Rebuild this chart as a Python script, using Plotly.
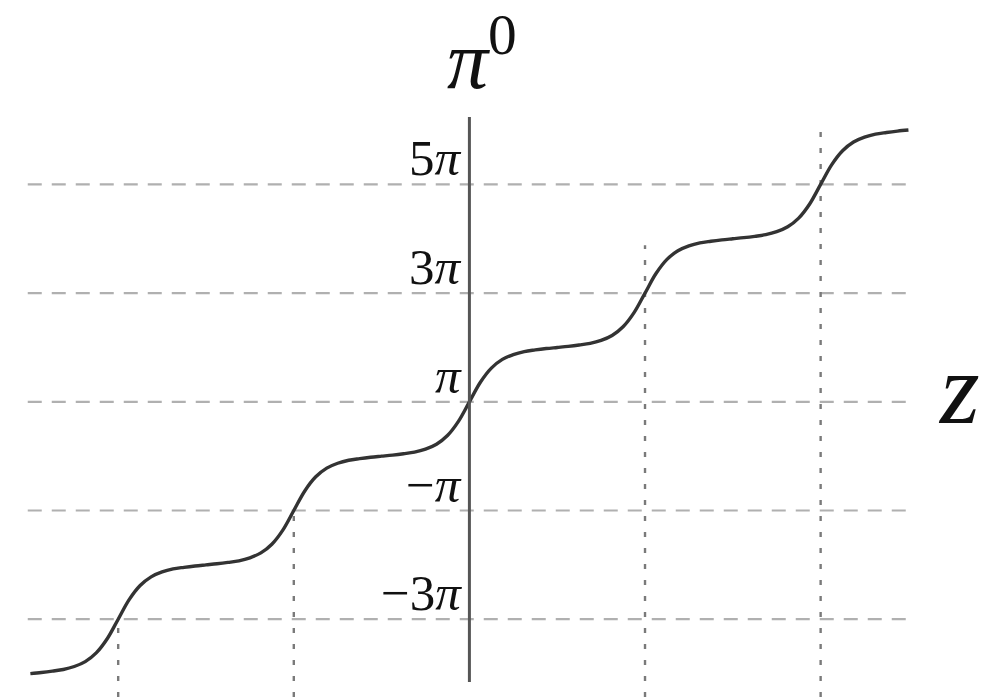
import plotly.graph_objects as go

# Phase profile pi^0(z) sampled every eighth unit of z; phase in units of pi
z_pts = [-5.0, -4.875, -4.75, -4.625, -4.5, -4.375, -4.25, -4.125,
         -4.0, -3.875, -3.75, -3.625, -3.5, -3.375, -3.25, -3.125,
         -3.0, -2.875, -2.75, -2.625, -2.5, -2.375, -2.25, -2.125,
         -2.0, -1.875, -1.75, -1.625, -1.5, -1.375, -1.25, -1.125,
         -1.0, -0.875, -0.75, -0.625, -0.5, -0.375, -0.25, -0.125,
         0.0, 0.125, 0.25, 0.375, 0.5, 0.625, 0.75, 0.875,
         1.0, 1.125, 1.25, 1.375, 1.5, 1.625, 1.75, 1.875,
         2.0, 2.125, 2.25, 2.375, 2.5, 2.625, 2.75, 2.875,
         3.0, 3.125, 3.25, 3.375, 3.5, 3.625, 3.75, 3.875,
         4.0, 4.125, 4.25, 4.375, 4.5, 4.625, 4.75, 4.875, 5.0]
phase_pts = [-4.0, -3.98, -3.955, -3.925, -3.87, -3.78, -3.62, -3.36,
             -3.0, -2.64, -2.38, -2.22, -2.13, -2.075, -2.045, -2.02,
             -2.0, -1.98, -1.955, -1.925, -1.87, -1.78, -1.62, -1.36,
             -1.0, -0.64, -0.38, -0.22, -0.13, -0.075, -0.045, -0.02,
             0.0, 0.02, 0.045, 0.075, 0.13, 0.22, 0.38, 0.64,
             1.0, 1.36, 1.62, 1.78, 1.87, 1.925, 1.955, 1.98,
             2.0, 2.02, 2.045, 2.075, 2.13, 2.22, 2.38, 2.64,
             3.0, 3.36, 3.62, 3.78, 3.87, 3.925, 3.955, 3.98,
             4.0, 4.02, 4.045, 4.075, 4.13, 4.22, 4.38, 4.64,
             5.0, 5.36, 5.62, 5.78, 5.87, 5.925, 5.955, 5.98, 6.0]

# Horizontal reference levels (units of pi) and their labels
level_vals = [5, 3, 1, -1, -3]
level_text = ["5<i>π</i>", "3<i>π</i>", "<i>π</i>", "−<i>π</i>", "−3<i>π</i>"]

# Vertical guides at the crossings and how high each one reaches
guide_z = [-4, -2, 2, 4]
guide_top = [-3.0, -1.0, 3.88, 6.13]

X_RANGE = [-5.346, 6.020]
Y_RANGE = [-4.431, 8.393]
LEVEL_SPAN = [-5.03, 4.995]
AXIS_SPAN = [-4.155, 6.24]

SERIF = "Liberation Serif"

fig = go.Figure()

shapes = []
for v in level_vals:
    shapes.append(dict(type="line", xref="x", yref="y",
                       x0=LEVEL_SPAN[0], x1=LEVEL_SPAN[1], y0=v, y1=v,
                       line=dict(color="#b0b0b0", width=2.2, dash="14px,10px"),
                       layer="below"))
for gz, top in zip(guide_z, guide_top):
    shapes.append(dict(type="line", xref="x", yref="y",
                       x0=gz, x1=gz, y0=Y_RANGE[0], y1=top,
                       line=dict(color="#7a7a7a", width=2.4, dash="5px,11px"),
                       layer="below"))
# vertical axis through z = 0
shapes.append(dict(type="line", xref="x", yref="y", x0=0, x1=0,
                   y0=AXIS_SPAN[0], y1=AXIS_SPAN[1],
                   line=dict(color="#555555", width=3)))

fig.add_trace(go.Scatter(x=z_pts, y=phase_pts, mode="lines",
                         line=dict(color="#333333", width=3.4,
                                   shape="spline", smoothing=1.0),
                         hoverinfo="skip", showlegend=False))

annotations = []
for v, t in zip(level_vals, level_text):
    annotations.append(dict(x=0, y=v, xref="x", yref="y", text=t,
                            showarrow=False, xanchor="right", yanchor="middle",
                            xshift=-5, yshift=26,
                            font=dict(family=SERIF, size=51, color="#111111")))

annotations.append(dict(x=481.5 / 998, y=1 - 55 / 697, xref="paper", yref="paper",
                        text="<i>π</i><sup>0</sup>", showarrow=False,
                        xanchor="center", yanchor="middle",
                        font=dict(family=SERIF, size=82, color="#111111")))
annotations.append(dict(x=959 / 998, y=1 - 388 / 697, xref="paper", yref="paper",
                        text="<i>z</i>", showarrow=False,
                        xanchor="center", yanchor="middle",
                        font=dict(family=SERIF, size=102, color="#111111")))

fig.update_layout(
    width=998, height=697,
    margin=dict(l=0, r=0, t=0, b=0),
    paper_bgcolor="white", plot_bgcolor="white",
    shapes=shapes, annotations=annotations,
    xaxis=dict(range=X_RANGE, visible=False, fixedrange=True),
    yaxis=dict(range=Y_RANGE, visible=False, fixedrange=True),
    showlegend=False,
)

fig.write_html("out.html")
